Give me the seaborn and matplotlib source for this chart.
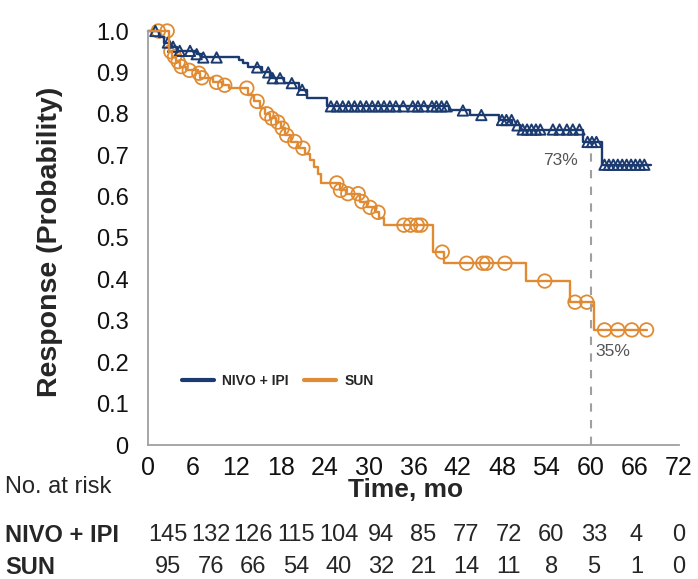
import numpy as np
import pandas as pd
import matplotlib
matplotlib.use("Agg")
import matplotlib.pyplot as plt
import seaborn as sns
from matplotlib.lines import Line2D
from matplotlib.transforms import blended_transform_factory

# ---------------- data ----------------
arms = ["NIVO + IPI", "SUN"]

nivo_event_t = [0, 1.5, 2.2, 3.0, 3.9, 6.6, 7.3, 12.3, 12.9, 13.5,
                15.5, 16.5, 18.5, 20.5, 21.5, 24.3, 40.8, 43.6, 47.6, 49.4,
                50.4, 59.0, 61.6]
nivo_surv = [1.0, 0.985, 0.972, 0.962, 0.952, 0.944, 0.936, 0.93, 0.922, 0.912,
             0.9, 0.886, 0.874, 0.858, 0.838, 0.818, 0.808, 0.797, 0.785, 0.772,
             0.762, 0.732, 0.677]
nivo_end = 68.2
nivo_cens = [1.0, 2.7, 3.4, 4.3, 5.7, 6.6, 7.5, 9.3, 14.8, 16.3, 16.9, 17.9,
             19.5, 20.9, 24.8, 25.6, 26.4, 27.2, 28.0, 28.8, 29.6, 30.4, 31.2,
             32.0, 32.8, 33.6, 34.6, 35.9, 36.6, 37.4, 38.5, 39.1, 39.8, 40.5,
             42.7, 45.2, 48.0, 48.6, 49.3, 50.1, 50.8, 51.4, 52.0, 52.6, 53.2,
             54.9, 55.8, 56.8, 57.6, 58.5, 59.6, 60.2, 60.8, 61.9, 62.5, 63.1,
             63.7, 64.3, 64.9, 65.5, 66.1, 66.7, 67.3]

sun_event_t = [0, 2.8, 3.3, 3.8, 4.3, 5.2, 6.8, 7.1, 8.8, 10.0,
               11.0, 13.6, 14.4, 15.2, 15.9, 16.6, 17.3, 18.0, 18.6, 19.4,
               20.4, 21.3, 21.9, 22.5, 23.0, 23.5, 26.0, 26.8, 28.8, 29.7,
               30.8, 31.3, 32.0, 38.7, 40.2, 51.3, 57.2, 60.5]
sun_surv = [1.0, 0.95, 0.938, 0.926, 0.914, 0.905, 0.898, 0.887, 0.876, 0.869,
            0.862, 0.845, 0.83, 0.815, 0.8, 0.789, 0.78, 0.765, 0.748, 0.733,
            0.717, 0.702, 0.688, 0.672, 0.655, 0.633, 0.615, 0.607, 0.588, 0.574,
            0.562, 0.548, 0.531, 0.466, 0.439, 0.396, 0.345, 0.278]
sun_end = 67.6
sun_cens = [1.4, 2.6, 3.1, 3.6, 4.1, 4.5, 5.6, 6.9, 7.3, 9.3, 10.4, 13.4, 14.8,
            16.1, 16.8, 17.6, 18.2, 18.8, 19.9, 21.0, 25.6, 26.1, 27.1, 28.5,
            29.0, 30.1, 31.2, 34.7, 35.6, 36.5, 37.0, 39.9, 43.2, 45.4, 45.9,
            48.4, 53.8, 57.9, 59.5, 61.9, 63.7, 65.6, 67.6]

x_ticks = [0, 6, 12, 18, 24, 30, 36, 42, 48, 54, 60, 66, 72]
y_ticks = [0, 0.1, 0.2, 0.3, 0.4, 0.5, 0.6, 0.7, 0.8, 0.9, 1.0]
y_tick_labels = ["0", "0.1", "0.2", "0.3", "0.4", "0.5", "0.6", "0.7", "0.8", "0.9", "1.0"]

risk_nivo = [145, 132, 126, 115, 104, 94, 85, 77, 72, 60, 33, 4, 0]
risk_sun = [95, 76, 66, 54, 40, 32, 21, 14, 11, 8, 5, 1, 0]

landmark_t = 60
landmark_nivo = "73%"
landmark_sun = "35%"

# ---------------- styling ----------------
NAVY = "#1b3a6f"
ORANGE = "#e08b33"
GRAY = "#a0a0a0"
W, H = 698, 579

sns.set_theme(style="white")
plt.rcParams["font.family"] = ["Liberation Sans", "DejaVu Sans"]


def step_frame(t, s, end, label):
    return pd.DataFrame({"time": list(t) + [end],
                         "surv": list(s) + [s[-1]],
                         "arm": label})


def censor_frame(t, s, c, label):
    idx = np.searchsorted(np.asarray(t), np.asarray(c), side="right") - 1
    return pd.DataFrame({"time": c, "surv": np.asarray(s)[idx], "arm": label})


lines = pd.concat([step_frame(nivo_event_t, nivo_surv, nivo_end, arms[0]),
                   step_frame(sun_event_t, sun_surv, sun_end, arms[1])])
cens_n = censor_frame(nivo_event_t, nivo_surv, nivo_cens, arms[0])
cens_s = censor_frame(sun_event_t, sun_surv, sun_cens, arms[1])

fig = plt.figure(figsize=(W / 100, H / 100), dpi=100)
ax = fig.add_axes([148 / W, 1 - 445 / H, (679 - 148) / W, (445 - 31) / H])

sns.lineplot(data=lines, x="time", y="surv", hue="arm",
             palette={arms[0]: NAVY, arms[1]: ORANGE},
             drawstyle="steps-post", linewidth=1.7, estimator=None,
             sort=False, legend=False, ax=ax)
for ln in ax.lines:
    ln.set_clip_on(False)

sns.scatterplot(data=cens_s, x="time", y="surv", marker="o", s=95,
                color=ORANGE, linewidth=1.3, legend=False, ax=ax)
ax.collections[-1].set_facecolor("none")
ax.collections[-1].set_edgecolor(ORANGE)
ax.collections[-1].set_clip_on(False)

sns.scatterplot(data=cens_n, x="time", y="surv", marker="^", s=55,
                color=NAVY, linewidth=1.4, legend=False, ax=ax)
ax.collections[-1].set_facecolor("none")
ax.collections[-1].set_edgecolor(NAVY)
ax.collections[-1].set_clip_on(False)

# landmark dashed line
ax.plot([landmark_t, landmark_t], [0, 0.724], ls=(0, (4, 4)), color=GRAY,
        lw=1.5, zorder=1)
ax.text(58.3, 0.688, landmark_nivo, ha="right", va="center", fontsize=12.5,
        color="#555555")
ax.text(60.6, 0.226, landmark_sun, ha="left", va="center", fontsize=12.5,
        color="#555555")

ax.set_xlim(0, 72)
ax.set_ylim(0, 1.0)
ax.set_xticks(x_ticks)
ax.set_xticklabels([str(v) for v in x_ticks])
ax.set_yticks(y_ticks)
ax.set_yticklabels(y_tick_labels)
ax.set_xlabel("")
ax.set_ylabel("")
for side in ["top", "right"]:
    ax.spines[side].set_visible(False)
for side in ["left", "bottom"]:
    ax.spines[side].set_color(GRAY)
    ax.spines[side].set_linewidth(1.3)
ax.tick_params(axis="both", direction="out", color=GRAY, width=1.3,
               length=8, labelcolor="#111111")
ax.tick_params(axis="x", labelsize=18, pad=1, length=7)
ax.tick_params(axis="y", labelsize=17, pad=6, length=8)
ax.grid(False)

# legend
handles = [Line2D([], [], color=NAVY, lw=3), Line2D([], [], color=ORANGE, lw=3)]
leg = ax.legend(handles, arms, loc="center left",
                bbox_to_anchor=(34 / 531, 0.155), ncol=2, frameon=False,
                handlelength=2.3, handletextpad=0.6, columnspacing=1.1,
                borderpad=0, borderaxespad=0,
                prop={"weight": "bold", "size": 10})

# axis titles
fig.text(406 / W, 1 - 490 / H, "Time, mo", ha="center", va="center",
         fontsize=19, fontweight="bold")
fig.text(50 / W, 1 - 242 / H, "Response (Probability)", ha="center",
         va="center", rotation=90, fontsize=20.5, fontweight="bold")

# number at risk table
fig.text(5 / W, 1 - 487 / H, "No. at risk", ha="left", va="center",
         fontsize=17)
fig.text(5 / W, 1 - 535 / H, arms[0], ha="left", va="center", fontsize=17,
         fontweight="bold")
fig.text(5 / W, 1 - 567 / H, arms[1], ha="left", va="center", fontsize=17,
         fontweight="bold")
trans = blended_transform_factory(ax.transData, fig.transFigure)
for t, n_a, n_b in zip(x_ticks, risk_nivo, risk_sun):
    pos = 72 - (72 - t) * 0.962
    ax.text(pos, 1 - 535 / H, str(n_a), transform=trans, ha="center",
            va="center", fontsize=17, clip_on=False)
    ax.text(pos, 1 - 567 / H, str(n_b), transform=trans, ha="center",
            va="center", fontsize=17, clip_on=False)

fig.savefig("out.png", dpi=100)
